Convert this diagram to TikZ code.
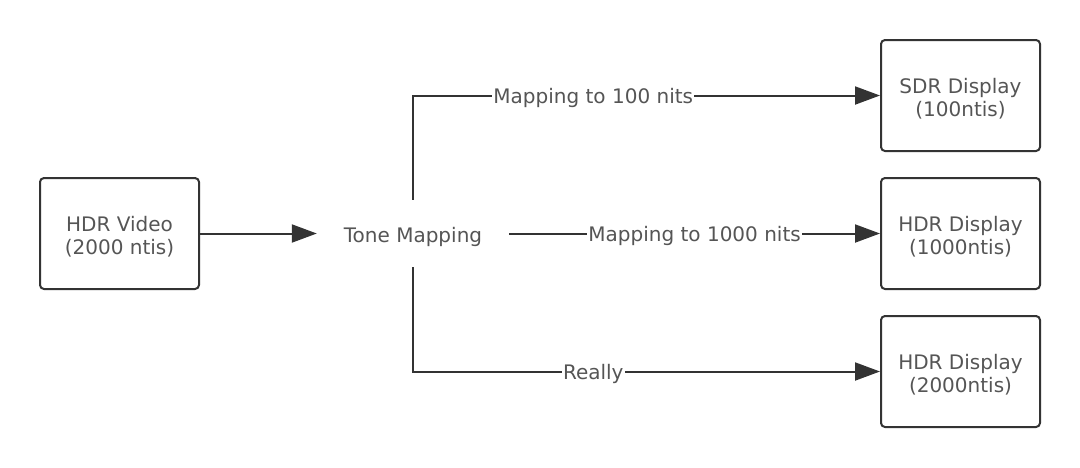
\documentclass[tikz,border=0pt]{standalone}
\usepackage{fontspec}
\setmainfont{DejaVu Sans}
\usetikzlibrary{arrows.meta}
\definecolor{linec}{HTML}{333333}
\definecolor{textc}{HTML}{555555}
\newcommand{\lowered}[2]{\raisebox{0pt}[\dimexpr\height+#1\relax][\depth]{\begin{tabular}{@{}c@{}}#2\end{tabular}}}
\begin{document}
\begin{tikzpicture}[x=1pt,y=-1pt,
  txt/.style={text=textc, font=\fontsize{20}{23}\selectfont},
  box/.style={txt, draw=linec, line width=2pt, rounded corners=4pt, minimum width=159pt, minimum height=111pt, inner sep=0pt},
  plain/.style={txt, minimum width=192pt, minimum height=67pt, inner sep=0pt},
  conn/.style={draw=linec, line width=2pt, -{Triangle[length=25pt,width=18pt]}},
  lbl/.style={txt, fill=white, inner sep=1pt, yshift=-2.5pt}]
\useasboundingbox (0,0) rectangle (1080,467);
\node[box] (video) at (119.5,233.5) {\lowered{10pt}{HDR Video\\(2000 ntis)}};
\node[plain] (tm) at (413,233.5) {\lowered{8pt}{Tone Mapping}};
\node[box] (sdr) at (960.5,95.5) {\lowered{10pt}{SDR Display\\(100ntis)}};
\node[box] (hdr1) at (960.5,233.5) {\lowered{10pt}{HDR Display\\(1000ntis)}};
\node[box] (hdr2) at (960.5,371.5) {\lowered{10pt}{HDR Display\\(2000ntis)}};
\draw[conn] (video.east) -- (tm.west);
\draw[conn] (tm.north) |- node[lbl, pos=0.693] {Mapping to 100 nits} (sdr.west);
\draw[conn] (tm.east) -- node[lbl] {Mapping to 1000 nits} (hdr1.west);
\draw[conn] (tm.south) |- node[lbl, pos=0.693] {Really} (hdr2.west);
\end{tikzpicture}
\end{document}
